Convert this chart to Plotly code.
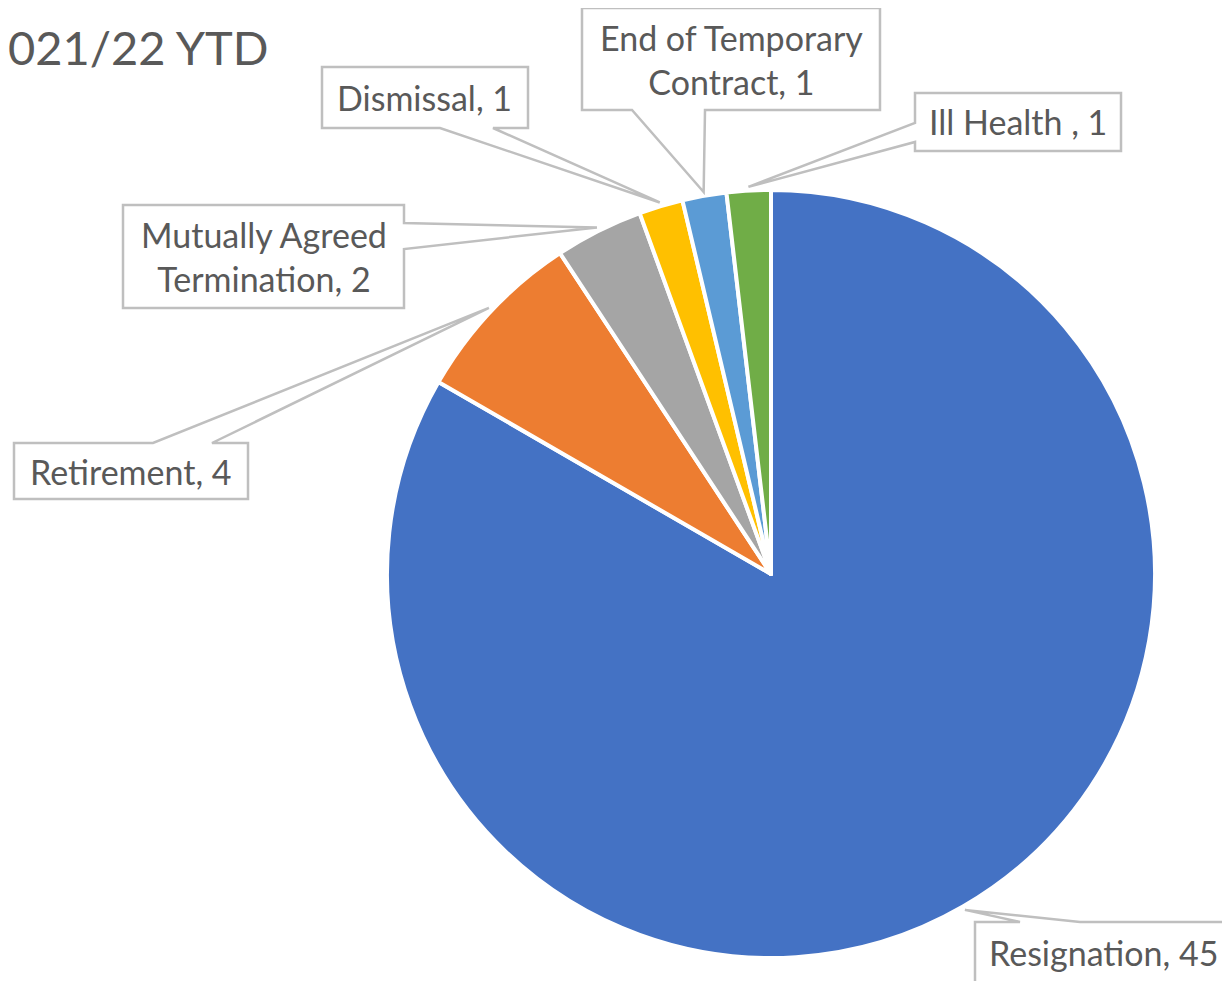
import math
import plotly.graph_objects as go

# the page body has an 8px margin, so the figure sits at (8, 8) in the window
OFF = 8
W, H = 1230 - OFF, 981 - OFF

categories = ["Resignation", "Retirement", "Mutually Agreed Termination",
              "Dismissal", "End of Temporary Contract", "Ill Health "]
values = [45, 4, 2, 1, 1, 1]
colors = ["#4472C4", "#ED7D31", "#A5A5A5", "#FFC000", "#5B9BD5", "#70AD47"]
label_text = ["Resignation, 45", "Retirement, 4", "Mutually Agreed<br>Termination, 2",
              "Dismissal, 1", "End of Temporary<br>Contract, 1", "Ill Health , 1"]

# pie placement (window pixels)
pie_left, pie_right, pie_top, pie_bottom = 387, 1155, 190, 958

# callout boxes: (x0, y0, x1, y1), side of pointer, pointer base span, text centre
callouts = [
    ((975, 922, 1245, 990), "top", (1020, 1080), (1103, 952)),
    ((14, 443, 248, 499), "top", (153, 212), None),
    ((123, 205, 404, 308), "right", (223, 249), None),
    ((322, 67, 528, 128), "bottom", (440, 493), None),
    ((582, 8, 880, 110), "bottom", (632, 705), None),
    ((915, 93, 1121, 151), "left", (123, 142), None),
]


def px(x, y):
    return (x - OFF) / W, 1 - (y - OFF) / H


def callout_path(box, side, base, tip):
    x0, y0, x1, y1 = box
    b0, b1 = base
    if side == "top":
        pts = [(x0, y0), (b0, y0), tip, (b1, y0), (x1, y0), (x1, y1), (x0, y1)]
    elif side == "bottom":
        pts = [(x0, y0), (x1, y0), (x1, y1), (b1, y1), tip, (b0, y1), (x0, y1)]
    elif side == "left":
        pts = [(x0, y0), (x1, y0), (x1, y1), (x0, y1), (x0, b1), tip, (x0, b0)]
    else:
        pts = [(x0, y0), (x1, y0), (x1, b0), tip, (x1, b1), (x1, y1), (x0, y1)]
    d = []
    for i, (x, y) in enumerate(pts):
        u, v = px(x, y)
        d.append(("M" if i == 0 else "L") + f"{u:.5f},{v:.5f}")
    return " ".join(d) + " Z"


fig = go.Figure()
dx0, dy1 = px(pie_left, pie_top)
dx1, dy0 = px(pie_right, pie_bottom)
fig.add_trace(go.Pie(
    labels=categories,
    values=values,
    marker=dict(colors=colors, line=dict(color="white", width=4)),
    sort=False,
    direction="clockwise",
    rotation=0,
    textinfo="none",
    hoverinfo="label+value",
    showlegend=False,
    domain=dict(x=[dx0, dx1], y=[dy0, dy1]),
))

cx = (pie_left + pie_right) / 2
cy = (pie_top + pie_bottom) / 2
r = (pie_bottom - pie_top) / 2
total = sum(values)
cum = 0
shapes = []
annotations = []
for val, txt, (box, side, base, centre) in zip(values, label_text, callouts):
    mid = (cum + val / 2) / total * 2 * math.pi
    cum += val
    tip = (cx + 1.01 * r * math.sin(mid), cy - 1.01 * r * math.cos(mid))
    shapes.append(dict(type="path", xref="paper", yref="paper",
                       path=callout_path(box, side, base, tip),
                       fillcolor="white", line=dict(color="#BFBFBF", width=2.5),
                       layer="above"))
    if centre is None:
        centre = ((box[0] + box[2]) / 2, (box[1] + box[3]) / 2)
    u, v = px(*centre)
    annotations.append(dict(x=u, y=v, xref="paper", yref="paper", text=txt,
                            showarrow=False, xanchor="center", yanchor="middle",
                            font=dict(family="Lato", size=34, color="#595959")))

tu, tv = px(8, 47)
annotations.append(dict(x=tu, y=tv, xref="paper", yref="paper", text="021/22 YTD",
                        showarrow=False, xanchor="left", yanchor="middle", xshift=-2,
                        font=dict(family="Lato", size=47, color="#595959")))

fig.update_layout(
    width=W, height=H,
    margin=dict(l=0, r=0, t=0, b=0),
    paper_bgcolor="white",
    plot_bgcolor="white",
    shapes=shapes,
    annotations=annotations,
)

fig.write_html("out.html")
